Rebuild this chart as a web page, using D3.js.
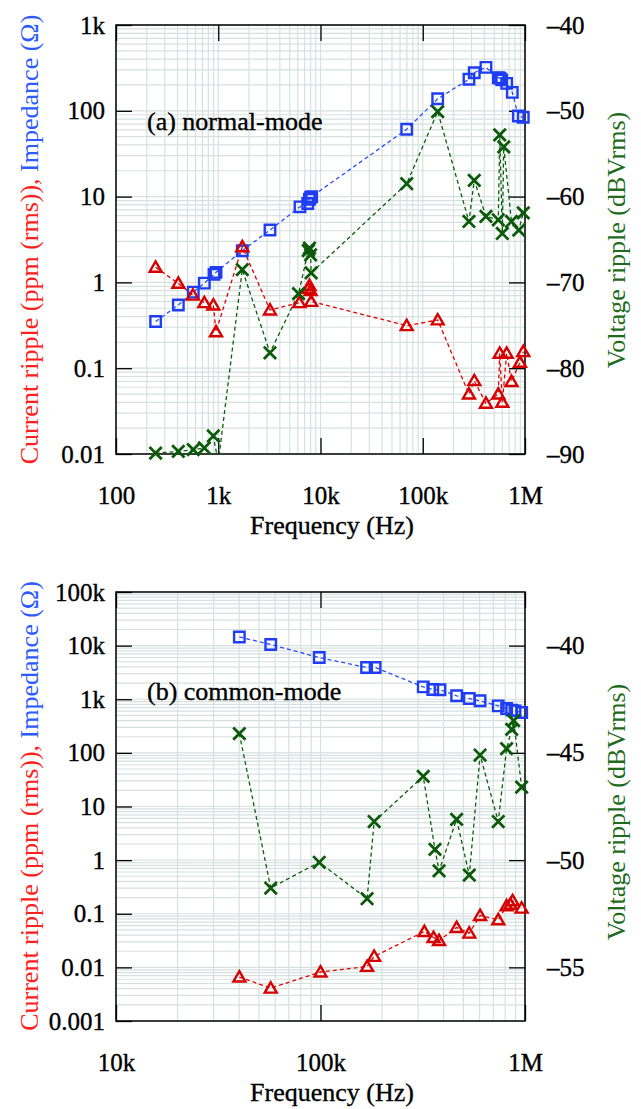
<!DOCTYPE html>
<html>
<head>
<meta charset="utf-8">
<script src="https://cdn.jsdelivr.net/npm/d3@7"></script>
<style>
  body { margin: 0; background: #fff; }
  #chart, #chart text, #chart tspan, #chart g { font-family: 'Liberation Serif' !important; }
</style>
</head>
<body>
<svg id="chart" width="641" height="1109" font-family="Liberation Serif"></svg>
<script>
// ---- (a) normal-mode ----
var freqImpA = [244, 407, 570, 731, 909, 951, 1718, 3206, 6300, 7500, 7800, 8000, 8200, 69700, 140000, 283000, 319000, 415000, 548000, 570000, 592000, 662000, 751000, 861000, 962000];
var impA     = [0.35, 0.545, 0.77, 0.98, 1.24, 1.31, 2.34, 4.08, 7.6, 8.3, 9.3, 9.8, 10, 61, 138, 233, 278, 321, 243, 240, 229, 209, 164, 87, 84];

var freqCurA = [244, 407, 565, 731, 895, 951, 1718, 3206, 6200, 7600, 7800, 8000, 8100, 69700, 140000, 283000, 319000, 415000, 548000, 566000, 600000, 662000, 737000, 893000, 962000];
var curA     = [1.5, 0.975, 0.71, 0.58, 0.545, 0.266, 2.6, 0.477, 0.58, 0.85, 0.92, 0.8, 0.6, 0.313, 0.365, 0.05, 0.0715, 0.039, 0.05, 0.149, 0.04, 0.149, 0.07, 0.117, 0.156];

var freqVolA = [244, 407, 570, 731, 895, 1000, 1718, 3206, 6100, 7600, 7800, 8000, 8100, 69700, 140000, 283000, 319000, 415000, 548000, 566000, 600000, 620000, 737000, 870000, 962000];
var volA     = [-89.9, -89.7, -89.5, -89.3, -87.9, -91, -68.5, -78.2, -71.3, -66.3, -66.0, -66.8, -68.9, -58.5, -50.1, -62.9, -58.1, -62.3, -62.7, -52.8, -64.3, -54.2, -62.9, -63.9, -61.9];

// ---- (b) common-mode ----
var freqImpB = [40100, 57100, 98600, 168000, 185000, 318000, 354000, 384000, 463000, 534000, 603000, 740000, 813000, 861000, 894000, 963000];
var impB     = [14500, 10500, 6000, 3910, 3910, 1700, 1520, 1500, 1160, 1030, 935, 753, 673, 627, 608, 566];

var freqCurB = [40100, 57100, 100000, 169000, 183000, 322000, 357000, 380000, 463000, 534000, 603000, 740000, 813000, 849000, 870000, 963000];
var curB     = [0.0066, 0.0041, 0.0082, 0.0104, 0.016, 0.0467, 0.036, 0.0316, 0.0553, 0.0435, 0.0925, 0.077, 0.14, 0.15, 0.174, 0.127];

var freqVolB = [40100, 57100, 98600, 169000, 183000, 318000, 363000, 380000, 463000, 534000, 603000, 740000, 813000, 861000, 880000, 963000];
var volB     = [-44.1, -51.3, -50.1, -51.8, -48.2, -46.1, -49.5, -50.5, -48.1, -50.7, -45.1, -48.2, -44.8, -43.9, -43.5, -46.6];

// tick labels
var xTicksA  = [100, 1e3, 1e4, 1e5, 1e6];
var yTicksA  = [0.01, 0.1, 1, 10, 100, 1000];
var y2TicksA = [-40, -50, -60, -70, -80, -90];
var xTicksB  = [1e4, 1e5, 1e6];
var yTicksB  = [0.001, 0.01, 0.1, 1, 10, 100, 1000, 1e4, 1e5];
var y2TicksB = [-40, -45, -50, -55];

var svg = d3.select('#chart');
var L = 116, R = 525;
var FONT = "'Liberation Serif'";

var C = {
  blue: '#1f3df2', blueLine: '#2a4bff', blueText: '#2d5bff',
  red: '#d60000', redLine: '#e00000', redText: '#ff2020',
  green: '#0a5a0a', greenLine: '#0b5d0b', greenText: '#1e6b1e',
  grid: '#d6e1df'
};

function fmt(v) {
  if (v >= 1e6) return (v / 1e6) + 'M';
  if (v >= 1e3) return (v / 1e3) + 'k';
  return String(v);
}

function zip(fs, vs) {
  return fs.map(function (f, i) { return { f: f, v: vs[i] }; });
}

// text helper: serif, slightly heavy like the original
function txt(sel, size, color) {
  return sel.style('font-family', FONT).attr('font-size', size)
    .attr('fill', color).attr('stroke', color).attr('stroke-width', 0.35);
}

function drawPanel(p) {
  var g = svg.append('g');
  var x = d3.scaleLog().domain(p.xDomain).range([L, R]);
  var y = d3.scaleLog().domain(p.yDomain).range([p.bottom, p.top]);
  var y2 = d3.scaleLinear().domain(p.y2Domain).range([p.bottom, p.top]);

  // grid
  g.selectAll('.gx').data(x.ticks()).enter().append('line')
    .attr('x1', function (d) { return x(d); }).attr('x2', function (d) { return x(d); })
    .attr('y1', p.top).attr('y2', p.bottom)
    .attr('stroke', C.grid).attr('stroke-width', 1.2);
  g.selectAll('.gy').data(y.ticks()).enter().append('line')
    .attr('y1', function (d) { return y(d); }).attr('y2', function (d) { return y(d); })
    .attr('x1', L).attr('x2', R)
    .attr('stroke', C.grid).attr('stroke-width', 1.2);

  // axes (ticks pointing inward)
  var axes = [];
  axes.push(g.append('g').attr('transform', 'translate(0,' + p.bottom + ')')
    .call(d3.axisBottom(x).tickValues(p.xTicks).tickFormat(fmt).tickSizeInner(-16).tickSizeOuter(0).tickPadding(32)));
  axes.push(g.append('g').attr('transform', 'translate(0,' + p.top + ')')
    .call(d3.axisTop(x).tickValues(p.xTicks).tickFormat('').tickSizeInner(-16).tickSizeOuter(0)));
  axes.push(g.append('g').attr('transform', 'translate(' + L + ',0)')
    .call(d3.axisLeft(y).tickValues(p.yTicks).tickFormat(fmt).tickSizeInner(-16).tickSizeOuter(0).tickPadding(11)));
  axes.push(g.append('g').attr('transform', 'translate(' + R + ',0)')
    .call(d3.axisRight(y2).tickValues(p.y2Ticks).tickFormat(function (d) { return '\u2013' + Math.abs(d); })
      .tickSizeInner(-16).tickSizeOuter(0).tickPadding(22)));
  axes.forEach(function (a) { a.attr('font-family', 'Liberation Serif').attr('font-size', 25); });
  g.selectAll('.domain').remove();
  g.selectAll('.tick line').attr('stroke', '#000').attr('stroke-width', 1.3);
  txt(g.selectAll('.tick text'), 25, '#000');

  g.append('rect').attr('x', L).attr('y', p.top)
    .attr('width', R - L).attr('height', p.bottom - p.top)
    .attr('fill', 'none').attr('stroke', '#000').attr('stroke-width', 1.5);

  // clip
  var clipId = 'clip' + p.id;
  svg.append('clipPath').attr('id', clipId).append('rect')
    .attr('x', L).attr('y', p.top).attr('width', R - L).attr('height', p.bottom - p.top);
  var plot = g.append('g').attr('clip-path', 'url(#' + clipId + ')');

  function series(data, sy, lineColor, color, shape) {
    var line = d3.line().x(function (d) { return x(d.f); }).y(function (d) { return sy(d.v); });
    plot.append('path').datum(data).attr('d', line)
      .attr('fill', 'none').attr('stroke', lineColor).attr('stroke-width', 1.3)
      .attr('stroke-dasharray', '4,3');
    var dom = sy.domain();
    var inside = data.filter(function (d) { return d.v >= dom[0] && d.v <= dom[1]; });
    var sym = d3.symbol().type(shape.type).size(shape.size);
    g.append('g').selectAll('path').data(inside).enter().append('path')
      .attr('d', sym)
      .attr('transform', function (d) { return 'translate(' + x(d.f) + ',' + (sy(d.v) + (shape.dy || 0)) + ')'; })
      .attr('fill', 'none').attr('stroke', color).attr('stroke-width', shape.width);
  }

  series(p.imp, y, C.blueLine, C.blue, { type: d3.symbolSquare, size: 110, width: 2.4 });
  series(p.cur, y, C.redLine, C.red, { type: d3.symbolTriangle, size: 62, width: 2.4, dy: 1 });
  series(p.vol, y2, C.greenLine, C.green, { type: d3.symbolX, size: 100, width: 2.8 });

  // labels
  txt(g.append('text'), 26, '#000').attr('x', 332).attr('y', p.xLabelY).attr('text-anchor', 'middle')
    .text('Frequency (Hz)');

  var yl = g.append('text').style('font-family', FONT).attr('text-anchor', 'middle').attr('font-size', 26)
    .attr('transform', 'translate(38,' + p.yLabelY + ') rotate(-90)');
  yl.append('tspan').attr('fill', C.redText).text('Current ripple (ppm (rms)),');
  yl.append('tspan').attr('fill', C.blueText).text(' Impedance (\u03A9)');

  g.append('text').style('font-family', FONT).attr('text-anchor', 'middle').attr('font-size', 26).attr('fill', C.greenText)
    .attr('transform', 'translate(625,' + p.y2LabelY + ') rotate(-90)')
    .text('Voltage ripple (dBVrms)');

  txt(g.append('text'), 26, '#000').attr('x', 147).attr('y', p.noteY).text(p.note);
}

drawPanel({
  id: 'a', top: 25, bottom: 454,
  xDomain: [100, 1e6], yDomain: [0.01, 1000], y2Domain: [-90, -40],
  xTicks: xTicksA, yTicks: yTicksA, y2Ticks: y2TicksA,
  imp: zip(freqImpA, impA), cur: zip(freqCurA, curA), vol: zip(freqVolA, volA),
  xLabelY: 534, yLabelY: 239.5, y2LabelY: 240, noteY: 130, note: '(a) normal-mode'
});

drawPanel({
  id: 'b', top: 592, bottom: 1021,
  xDomain: [1e4, 1e6], yDomain: [0.001, 1e5], y2Domain: [-57.5, -37.5],
  xTicks: xTicksB, yTicks: yTicksB, y2Ticks: y2TicksB,
  imp: zip(freqImpB, impB), cur: zip(freqCurB, curB), vol: zip(freqVolB, volB),
  xLabelY: 1101, yLabelY: 806, y2LabelY: 812, noteY: 700, note: '(b) common-mode'
});
</script>
</body>
</html>
